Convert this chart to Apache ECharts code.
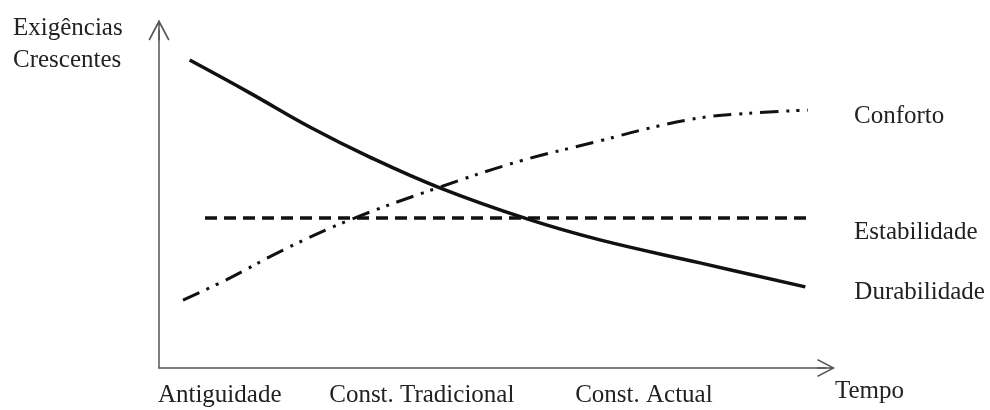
<!DOCTYPE html>
<html>
<head>
	<meta charset="UTF-8">
	<title>Exigências</title>
	<script type="text/javascript" src="https://cdn.jsdelivr.net/npm/echarts@6/dist/echarts.min.js"></script>
	<style type="text/css">
		html, body { margin: 0; padding: 0; background: #ffffff; }
		#graph { width: 990px; height: 410px; }
	</style>
</head>
<body>
	<div id="graph"></div>
	<script>
		// epocas no eixo do tempo (posicao 0..100)
		var epocas = ['Antiguidade', 'Const. Tradicional', 'Const. Actual'];
		var epocaPos = [9.1, 39.4, 72.7];

		// curvas [tempo, exigencia]
		var durabilidade = [[4.6, 91.1], [13.6, 81.4], [22.6, 71.3], [31.6, 62.4], [42.1, 53.3],
			[55.2, 44.1], [66.1, 37.9], [81.1, 31.1], [96.9, 24.0]];
		var conforto = [[3.6, 20.1], [10.6, 26.6], [18.6, 34.9], [28.6, 43.8], [41.8, 53.3],
			[54.1, 61.2], [66.1, 67.2], [73.6, 71.0], [81.1, 74.0], [88.6, 75.4], [97.3, 76.3]];
		var estabilidade = [[6.9, 44.4], [97.3, 44.4]];

		var fonte = 'Liberation Serif, Times New Roman, serif';
		// seta aberta com haste
		var seta = 'path://M10,0 L20,19 L18.7,20 L10,3.5 L1.3,20 L0,19 Z M9.3,1 L10.7,1 L10.7,20 L9.3,20 Z';

		var chart = echarts.init(document.getElementById('graph'), null, { renderer: 'canvas' });
		chart.setOption({
			animation: false,
			title: {
				text: 'Exigências\nCrescentes',
				left: 13, top: 12, padding: 0,
				textStyle: { fontFamily: fonte, fontSize: 25, fontWeight: 'normal', color: '#222', lineHeight: 32 }
			},
			grid: { left: 159, right: 164, top: 30, bottom: 42 },
			xAxis: {
				type: 'value', min: 0, max: 100,
				name: 'Tempo', nameLocation: 'end', nameGap: 9,
				nameTextStyle: { fontFamily: fonte, fontSize: 25, color: '#222', align: 'left', verticalAlign: 'top', padding: [11, 0, 0, 0] },
				axisLine: { show: true, symbol: ['none', seta], symbolSize: [20, 18], lineStyle: { color: '#555', width: 1.5 } },
				axisTick: { show: false },
				splitLine: { show: false },
				axisLabel: {
					customValues: epocaPos, margin: 15,
					fontFamily: fonte, fontSize: 25, color: '#222',
					formatter: function (v) { return epocas[epocaPos.indexOf(v)] || ''; }
				}
			},
			yAxis: {
				type: 'value', min: 0, max: 100,
				axisLine: { show: true, symbol: ['none', seta], symbolSize: [21, 21], lineStyle: { color: '#555', width: 1.5 } },
				axisTick: { show: false },
				splitLine: { show: false },
				axisLabel: { show: false }
			},
			series: [{
				name: 'Conforto', type: 'line', data: conforto, smooth: 0.4, showSymbol: false,
				lineStyle: { color: '#111', width: 3, type: [18, 8, 3, 7, 3, 8] },
				endLabel: { show: true, formatter: 'Conforto', offset: [38, 6], fontFamily: fonte, fontSize: 25, color: '#222' }
			}, {
				name: 'Estabilidade', type: 'line', data: estabilidade, showSymbol: false,
				lineStyle: { color: '#111', width: 3.5, type: [12, 7] },
				endLabel: { show: true, formatter: 'Estabilidade', offset: [38, 15], fontFamily: fonte, fontSize: 25, color: '#222' }
			}, {
				name: 'Durabilidade', type: 'line', data: durabilidade, smooth: 0.4, showSymbol: false,
				lineStyle: { color: '#111', width: 3.5 },
				endLabel: { show: true, formatter: 'Durabilidade', offset: [41, 6], fontFamily: fonte, fontSize: 25, color: '#222' }
			}]
		});
	</script>
</body>
</html>
